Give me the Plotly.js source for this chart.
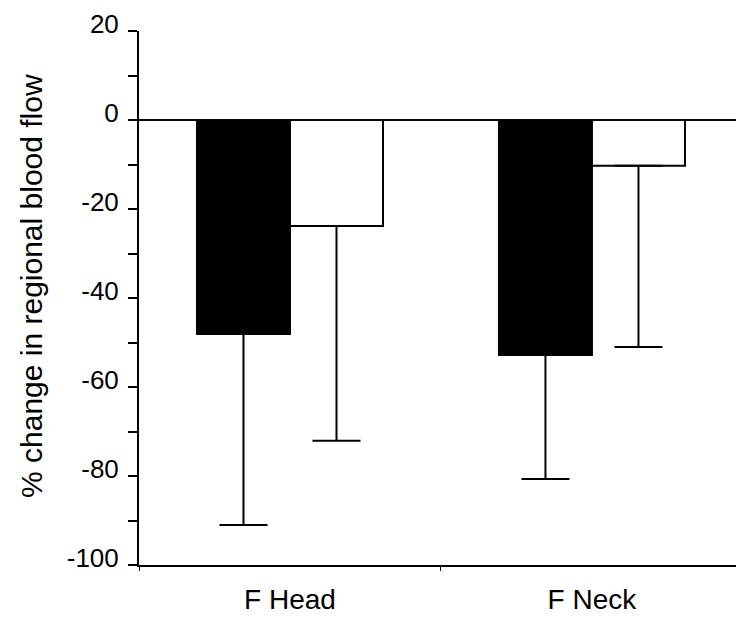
<!DOCTYPE html>
<html>
<head>
<meta charset="utf-8">
<script src="https://cdn.plot.ly/plotly-3.0.1.min.js"></script>
<style>html,body{margin:0;padding:0;background:#fff;}#chart{width:736px;height:620px;}</style>
</head>
<body>
<div id="chart"></div>
<script>
// Data
const categories = ["F Head", "F Neck"];
const blackValues = [-48.1, -52.8];
const blackErrMinus = [42.9, 27.9];
const whiteValues = [-23.8, -10.3];
const whiteErrMinus = [48.3, 40.7];
const yTickVals = [20, 10, 0, -10, -20, -30, -40, -50, -60, -70, -80, -90, -100];
const yTickText = ["20", "", "0", "", "-20", "", "-40", "", "-60", "", "-80", "", "-100"];

const FONT = "Liberation Sans, Arial, Helvetica, sans-serif";

const traces = [
  {
    type: "bar", x: categories, y: blackValues, name: "black",
    marker: {color: "#000", line: {color: "#000", width: 2}},
    error_y: {type: "data", symmetric: false, array: [0, 0], arrayminus: blackErrMinus,
              color: "#000", thickness: 2, width: 24}
  },
  {
    type: "bar", x: categories, y: whiteValues, name: "white",
    marker: {color: "#fff", line: {color: "#000", width: 2}},
    error_y: {type: "data", symmetric: false, array: [0, 0], arrayminus: whiteErrMinus,
              color: "#000", thickness: 2, width: 24}
  }
];

const layout = {
  width: 736, height: 620,
  margin: {l: 139, r: 0, t: 31, b: 55},
  paper_bgcolor: "#fff", plot_bgcolor: "#fff",
  showlegend: false,
  barmode: "group", bargap: 0.384, bargroupgap: 0,
  font: {family: FONT, color: "#000"},
  xaxis: {
    type: "category", range: [-0.5, 1.477],
    showline: true, linecolor: "#000", linewidth: 2,
    ticks: "outside", tickson: "boundaries", ticklen: 4, tickwidth: 1, tickcolor: "#000",
    showgrid: false, zeroline: false,
    tickfont: {family: FONT, size: 28, color: "#000"},
    ticklabelstandoff: 8
  },
  yaxis: {
    range: [-100, 20], autorange: false,
    tickmode: "array", tickvals: yTickVals, ticktext: yTickText,
    showline: true, linecolor: "#000", linewidth: 2,
    ticks: "outside", ticklen: 9, tickwidth: 2, tickcolor: "#000",
    showgrid: false,
    zeroline: true, zerolinecolor: "#000", zerolinewidth: 2,
    tickfont: {family: FONT, size: 26, color: "#000"},
    ticklabelshift: -7,
    ticklabelstandoff: 4
  },
  annotations: [{
    text: "% change in regional blood flow",
    xref: "paper", yref: "paper",
    x: -(139 - 31) / 597, y: (565 - 286) / 534,
    xanchor: "center", yanchor: "middle",
    textangle: -90, showarrow: false,
    font: {family: FONT, size: 30, color: "#000"}
  }]
};

Plotly.newPlot("chart", traces, layout, {displayModeBar: false, staticPlot: true});
</script>
</body>
</html>
